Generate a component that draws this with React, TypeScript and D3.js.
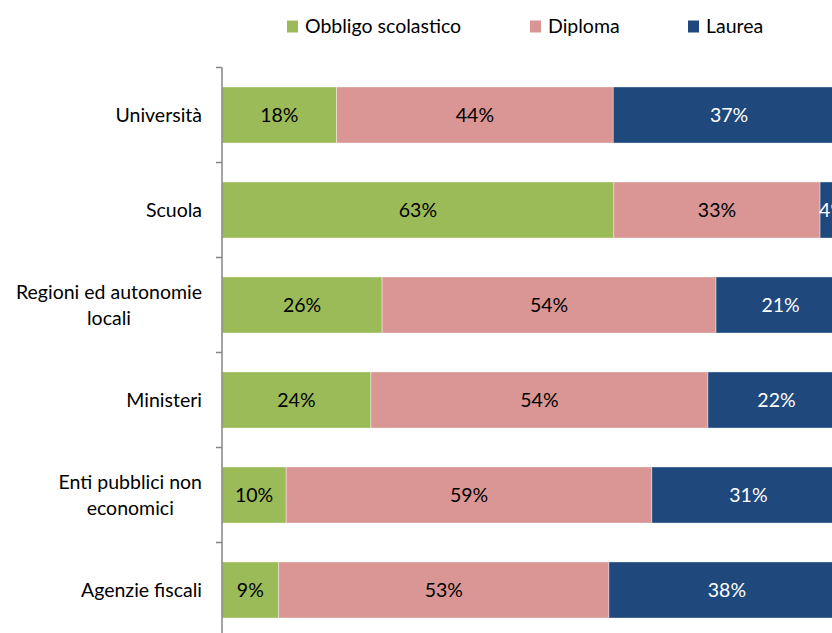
import React from 'react';
import * as d3 from 'd3';

const categories = ['Università', 'Scuola', 'Regioni ed autonomie\nlocali', 'Ministeri', 'Enti pubblici non\neconomici', 'Agenzie fiscali'];
const seriesNames = ['Obbligo scolastico', 'Diploma', 'Laurea'];
const obbligo = [18.4, 62.9, 25.7, 23.9, 10.3, 9.1];
const diploma = [44.4, 33.1, 53.6, 54.1, 58.7, 53.0];
const laurea = [37.2, 4.0, 20.7, 22.0, 31.0, 37.9];

const colors = ['#9BBB59', '#D99694', '#1F497D'];
const labelColors = ['#000', '#000', '#fff'];
const FONT = 'Lato, "Open Sans", sans-serif';
const FS = 19.5;

const W = 832;
const H = 633;
const margin = { left: 222, top: 67.5, right: -13, bottom: -4.5 };

let ctx: CanvasRenderingContext2D | null = null;
function measure(t: string) {
    if (!ctx) ctx = document.createElement('canvas').getContext('2d');
    if (!ctx) return t.length * 9;
    ctx.font = `${FS}px ${FONT}`;
    return ctx.measureText(t).width;
}

export default function App() {
    const rows = categories.map((c, i) => ({ cat: c, vals: [obbligo[i], diploma[i], laurea[i]] }));

    const x = d3.scaleLinear().domain([0, 100]).range([margin.left, W - margin.right]);
    const y = d3.scaleBand().domain(categories).range([margin.top, H - margin.bottom]).paddingInner(0.41).paddingOuter(0.205);

    const step = y.step();
    const tickYs = d3.range(categories.length + 1).map(i => margin.top + i * step);

    const stack = d3.stack<number[]>().keys(['0', '1', '2']).value((d, k) => d[+k]);
    const stacked = stack(rows.map(r => r.vals));

    const legendX = [287, 530, 688];

    return (
        <>
            <style>{`body{margin:0;overflow:hidden}`}</style>
            <svg width={W} height={H} style={{ display: 'block', fontFamily: FONT }}>
                <rect width={W} height={H} fill="#fff" />
                {/* legend */}
                {seriesNames.map((s, i) => (
                    <g key={s}>
                        <rect x={legendX[i]} y={20.5} width={11} height={12} fill={colors[i]} />
                        <text x={legendX[i] + 18} y={33} fontSize={FS} fill="#000">{s}</text>
                    </g>
                ))}
                {/* bars */}
                {stacked.map((layer, si) => (
                    <g key={si}>
                        {layer.map((d, i) => {
                            const cy = (y(categories[i]) || 0);
                            const x0 = x(d[0]), x1 = x(d[1]);
                            return (
                                <g key={i}>
                                    <rect x={x0} y={cy} width={x1 - x0} height={y.bandwidth()} fill={colors[si]}
                                        stroke="#fff" strokeOpacity={0.5} strokeWidth={0.75} />
                                    <text x={(x0 + x1) / 2} y={cy + y.bandwidth() / 2} dy="0.35em" textAnchor="middle"
                                        fontSize={FS} fill={labelColors[si]}>
                                        {Math.round(d[1] - d[0])}%
                                    </text>
                                </g>
                            );
                        })}
                    </g>
                ))}
                {/* axis */}
                <line x1={margin.left} x2={margin.left} y1={margin.top} y2={H + 10} stroke="#868686" strokeWidth={1.5} />
                {tickYs.map((t, i) => (
                    <line key={i} x1={margin.left - 6} x2={margin.left} y1={t} y2={t} stroke="#868686" strokeWidth={1.5} />
                ))}
                {/* category labels */}
                {categories.map(c => {
                    const lines = c.split('\n');
                    const cy = (y(c) || 0) + y.bandwidth() / 2;
                    const right = margin.left - 20;
                    if (lines.length === 1) {
                        return <text key={c} x={right} y={cy} dy="0.35em" textAnchor="end" fontSize={FS} fill="#000">{c}</text>;
                    }
                    const wmax = Math.max(...lines.map(measure));
                    const cx = right - wmax / 2;
                    const lh = 26;
                    return (
                        <text key={c} textAnchor="middle" fontSize={FS} fill="#000">
                            {lines.map((l, k) => (
                                <tspan key={k} x={cx} y={cy + (k - (lines.length - 1) / 2) * lh} dy="0.35em">{l}</tspan>
                            ))}
                        </text>
                    );
                })}
            </svg>
        </>
    );
}
